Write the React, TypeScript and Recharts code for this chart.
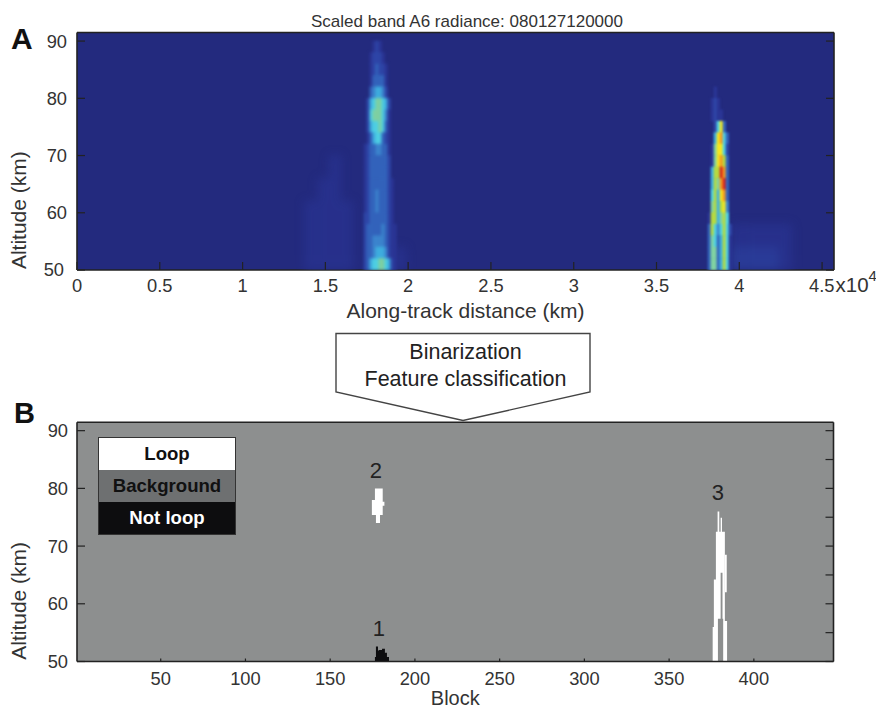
import React from 'react';
import {
  ScatterChart, ComposedChart, Scatter, Area, XAxis, YAxis, CartesianGrid,
  ReferenceDot, Legend,
} from 'recharts';

/* ---------- panel A values ---------- */
const kmTicks = [0, 5000, 10000, 15000, 20000, 25000, 30000, 35000, 40000, 45000];
const kmDomain = [0, 45720];
const altDomainA = [50, 91.5];
const altTicks = [50, 60, 70, 80, 90];

const rowAlts = [91, 89, 87, 85, 83, 81, 79, 77, 75, 73, 71, 69, 67, 65, 63, 61, 59, 57, 55, 53, 51];

const plumeOneKm = [17050, 17230, 17410, 17590, 17770, 17950, 18130, 18310, 18490, 18670, 18850, 19030, 19210];
const plumeOneLevels = [
  '0000000000000',
  '0000012100000',
  '0000122210000',
  '0000123221000',
  '0000133331000',
  '0000345542000',
  '0002567765200',
  '0002677764100',
  '0002566763100',
  '0001356632100',
  '0012334433100',
  '0012333333200',
  '0012333333200',
  '0012333333210',
  '0012334333210',
  '0012334333210',
  '0022333333210',
  '0023333343211',
  '0023344443211',
  '0023345554211',
  '0023566776521',
];

const plumeTwoKm = [38011, 38192, 38373, 38554, 38734, 38915, 39096, 39276, 39457, 39638];
const plumeTwoLevels = [
  '0000000000',
  '0000000000',
  '0000000000',
  '0000000000',
  '0000000000',
  '0001000000',
  '0012100000',
  '0012110000',
  '0002693000',
  '00059a6300',
  '0017996200',
  '00179a8300',
  '00588ba300',
  '00587ab300',
  '006859a300',
  '0078589400',
  '0188578600',
  '0386468620',
  '0376358610',
  '0377358610',
  '0377358610',
];

const hazeKm = [13400, 14100, 14900, 15600, 16300, 19500, 39900, 40700, 41400, 42100, 42800, 43600];
const hazeAlts = [72, 68, 64, 60, 56, 52];
const hazeLevels = [
  '000000000000',
  '000100000000',
  '001100000000',
  '011110000000',
  '011110111110',
  '011111222210',
];

const heatPalette = [
  '#232a7e', '#2a3595', '#2e46a8', '#3364bc', '#3c86ce', '#3fb0e0',
  '#4fd2e4', '#80d3a2', '#b6da40', '#f6e61e', '#f49a1f', '#d8261c',
];

/* ---------- panel B values ---------- */
const blockTicks = [50, 100, 150, 200, 250, 300, 350, 400];
const blockDomain = [0.6, 447];
const altDomainB = [50, 91.45];
const altTicksRight = [50, 55, 60, 65, 70, 75, 80, 85, 90];

const notLoopBlocks = [176.4, 177, 178.2, 178.8, 180.6, 182.3, 183.5, 184.7];
const notLoopTop = [50.8, 52.6, 51.9, 52, 52.2, 51.5, 50.8, 50.8];

const regionTwoBlocks = [174.6, 176.4, 177, 179.4, 181, 182];
const regionTwoLow = [75.4, 75.4, 74, 75.4, 77, 77];
const regionTwoHigh = [78, 80, 80, 80, 77.7, 77.7];

const regionThreeBlocks = [375.7, 376.4, 377.6, 378.6, 378.8, 379.6, 380.4, 381.2, 381.5, 381.9, 382.9, 384.2];
const regionThreeLow = [50, 50, 50, 50, 57.4, 57.4, 65.4, 65.4, 57.4, 50, 50, 50];
const regionThreeHigh = [56, 64.2, 72.5, 76, 76, 72.5, 74.9, 72.5, 72.5, 72.5, 57, 57];

const shoulderBlocks = [382.9, 384];
const shoulderLow = [62, 62];
const shoulderHigh = [68.5, 68.5];

const legendItems = [
  { label: 'Loop', fill: '#ffffff', color: '#111111' },
  { label: 'Background', fill: '#6e7071', color: '#111111' },
  { label: 'Not loop', fill: '#0d0d0f', color: '#ffffff' },
];

const regionNotes = [
  { label: '2', block: 177, alt: 83.1 },
  { label: '3', block: 378.7, alt: 79.4 },
  { label: '1', block: 178.8, alt: 55.8 },
];

/* ---------- tables ---------- */
const cellsFrom = (kms: number[], alts: number[], rows: string[]) =>
  rows.flatMap((row, r) =>
    kms.map((km, c) => ({ km, alt: alts[r], level: parseInt(row[c], 12) })).filter((d) => d.level > 0),
  );
const plumeOneCells = cellsFrom(plumeOneKm, rowAlts, plumeOneLevels);
const plumeTwoCells = cellsFrom(plumeTwoKm, rowAlts, plumeTwoLevels);
const hazeCells = cellsFrom(hazeKm, hazeAlts, hazeLevels);

const bandTable = (blocks: number[], low: number[], high: number[]) =>
  blocks.map((block, i) => ({ block, band: [low[i], high[i]] }));

const FONT = '"Liberation Sans", Arial, sans-serif';
const INK = '#333333';
const FRAME = '#222222';
const TICK_FS = 18.3;
const LABEL_FS = 21;

const cell = (w: number, h: number) => (p: any) => (
  <rect x={p.cx - w / 2} y={p.cy - h / 2} width={w} height={h} fill={heatPalette[p.payload.level]} />
);

const mark = (x1: number, y1: number, x2: number, y2: number) => (
  <line x1={x1} y1={y1} x2={x2} y2={y2} stroke={FRAME} strokeWidth={1.2} />
);

const LeftTick = (len: number, gap: (v: number) => number, lift: (v: number) => number) => (p: any) => (
  <g>
    {mark(p.x, p.y, p.x + len, p.y)}
    <text x={p.x - gap(p.payload.value)} y={p.y + 6.5 - lift(p.payload.value)} textAnchor="end" fontSize={TICK_FS} fontFamily={FONT} fill={INK}>
      {p.payload.value}
    </text>
  </g>
);
const RightTick = (len: number) => (p: any) => <g>{mark(p.x, p.y, p.x - len, p.y)}</g>;
const TopTick = (len: number) => (p: any) => <g>{mark(p.x, p.y, p.x, p.y + len)}</g>;

const BottomTickA = (p: any) => {
  const v = p.payload.value;
  const text = String(v / 10000);
  return (
    <g>
      {mark(p.x, p.y, p.x, p.y - 8)}
      {v === 45000 ? (
        <text x={p.x - 13} y={p.y + 22} fontSize={TICK_FS} fontFamily={FONT} fill={INK}>
          4.5<tspan dx={1} fontSize={20.5}>x10</tspan><tspan dy={-11} fontSize={15}>4</tspan>
        </text>
      ) : (
        <text x={p.x} y={p.y + 22} textAnchor="middle" fontSize={TICK_FS} fontFamily={FONT} fill={INK}>
          {text}
        </text>
      )}
    </g>
  );
};
const BottomTickB = (p: any) => (
  <g>
    {mark(p.x, p.y, p.x, p.y - 3)}
    <text x={p.x} y={p.y + 23} textAnchor="middle" fontSize={TICK_FS} fontFamily={FONT} fill={INK}>
      {p.payload.value}
    </text>
  </g>
);

const axisLine = { stroke: FRAME, strokeWidth: 1.6 };

const LegendBox = () => (
  <div style={{ width: 136, border: '1px solid #333', fontFamily: FONT, fontWeight: 700, fontSize: 18.6 }}>
    {legendItems.map((it) => (
      <div key={it.label} style={{ height: 32, lineHeight: '32px', textAlign: 'center', background: it.fill, color: it.color }}>
        {it.label}
      </div>
    ))}
  </div>
);

const PlotA = () => (
  <ScatterChart width={876} height={340} margin={{ top: 31.5, right: 41, bottom: 69, left: 76 }}>
    <CartesianGrid horizontal={false} vertical={false} fill={heatPalette[0]} />
    <XAxis dataKey="km" type="number" domain={kmDomain} ticks={kmTicks} height={1} tickSize={0} tickMargin={0}
      tickLine={false} axisLine={axisLine} interval={0} tick={BottomTickA} allowDataOverflow
      label={{ value: 'Along-track distance (km)', position: 'bottom', offset: 32, dx: 10, fontSize: LABEL_FS, fontFamily: FONT, fill: INK }} />
    <XAxis xAxisId="top" orientation="top" type="number" domain={kmDomain} ticks={kmTicks} height={1} tickSize={0}
      tickMargin={0} tickLine={false} axisLine={axisLine} interval={0} tick={TopTick(8)} allowDataOverflow />
    <YAxis dataKey="alt" type="number" domain={altDomainA} ticks={altTicks} width={1} tickSize={0} tickMargin={0}
      tickLine={false} axisLine={axisLine} interval={0} tick={LeftTick(8, (v) => (v === 50 ? 13 : 10), (v) => (v === 50 ? 1 : 0))} allowDataOverflow
      label={{ value: 'Altitude (km)', angle: -90, position: 'left', offset: 57, fontSize: LABEL_FS, fontFamily: FONT, fill: INK }} />
    <YAxis yAxisId="right" orientation="right" type="number" domain={altDomainA} ticks={altTicks} width={1} tickSize={0}
      tickMargin={0} tickLine={false} axisLine={axisLine} interval={0} tick={RightTick(8)} allowDataOverflow />
    <Scatter className="heat-haze" data={hazeCells} shape={cell(13, 24)} isAnimationActive={false} />
    <Scatter className="heat-soft" data={plumeOneCells} shape={cell(3.4, 12)} isAnimationActive={false} />
    <Scatter className="heat-fine" data={plumeTwoCells} shape={cell(3.4, 12)} isAnimationActive={false} />
  </ScatterChart>
);

const PlotB = () => (
  <ComposedChart width={876} height={300} margin={{ top: 11.3, right: 41.5, bottom: 47.5, left: 76 }}>
    <CartesianGrid horizontal={false} vertical={false} fill="#8d8f8f" />
    <XAxis dataKey="block" type="number" domain={blockDomain} ticks={blockTicks} height={1} tickSize={0} tickMargin={0}
      tickLine={false} axisLine={axisLine} interval={0} tick={BottomTickB} allowDataOverflow
      label={{ value: 'Block', position: 'bottom', offset: 28, fontSize: 20, fontFamily: FONT, fill: INK }} />
    <XAxis xAxisId="top" orientation="top" type="number" domain={blockDomain} ticks={blockTicks} height={1} tickSize={0}
      tickMargin={0} tickLine={false} axisLine={axisLine} interval={0} tick={TopTick(3)} allowDataOverflow />
    <YAxis type="number" domain={altDomainB} ticks={altTicks} width={1} tickSize={0} tickMargin={0} tickLine={false}
      axisLine={axisLine} interval={0} tick={LeftTick(8, () => 9, () => 0)} allowDataOverflow
      label={{ value: 'Altitude (km)', angle: -90, position: 'left', offset: 57, fontSize: LABEL_FS, fontFamily: FONT, fill: INK }} />
    <YAxis yAxisId="right" orientation="right" type="number" domain={altDomainB} ticks={altTicksRight} width={1} tickSize={0}
      tickMargin={0} tickLine={false} axisLine={axisLine} interval={0} tick={RightTick(8)} allowDataOverflow />
    <Area data={bandTable(notLoopBlocks, notLoopTop.map(() => 50), notLoopTop)} dataKey="band" type="stepAfter" stroke="none" fill="#0d0d0f" fillOpacity={1} dot={false} isAnimationActive={false} />
    <Area data={bandTable(regionTwoBlocks, regionTwoLow, regionTwoHigh)} dataKey="band" type="stepAfter" stroke="none" fill="#ffffff" fillOpacity={1} dot={false} isAnimationActive={false} />
    <Area data={bandTable(regionThreeBlocks, regionThreeLow, regionThreeHigh)} dataKey="band" type="stepAfter" stroke="none" fill="#ffffff" fillOpacity={1} dot={false} isAnimationActive={false} />
    <Area data={bandTable(shoulderBlocks, shoulderLow, shoulderHigh)} dataKey="band" type="stepAfter" stroke="none" fill="#ffffff" fillOpacity={1} dot={false} isAnimationActive={false} />
    {regionNotes.map((n) => (
      <ReferenceDot key={n.label} x={n.block} y={n.alt} r={0} fill="none" stroke="none"
        label={{ value: n.label, position: 'center', fontSize: 22, fontFamily: FONT, fill: '#222' }} />
    ))}
    <Legend content={<LegendBox />} layout="horizontal" align="center" verticalAlign="middle"
      wrapperStyle={{ left: 98, top: 27, width: 138, height: 98 }} />
  </ComposedChart>
);

export default function App() {
  const abs = (left: number, top: number): React.CSSProperties => ({ position: 'absolute', left, top });
  return (
    <div style={{ ...abs(0, 0), width: 876, height: 710, background: '#fff', overflow: 'hidden' }}>
      <style>{`
        .heat-fine { filter: blur(0.9px); clip-path: url(#plotClipA); }
        .heat-soft { filter: blur(1.8px); clip-path: url(#plotClipA); }
        .heat-haze { filter: blur(5px); clip-path: url(#plotClipA); opacity: 0.6; }
      `}</style>
      <svg width={0} height={0} style={abs(0, 0)}>
        <defs>
          <clipPath id="plotClipA" clipPathUnits="userSpaceOnUse">
            <rect x={77} y={32.5} width={757} height={237.5} />
          </clipPath>
        </defs>
      </svg>
      <div style={abs(0, 0)}><PlotA /></div>
      <div style={abs(0, 410)}><PlotB /></div>
      <svg width={876} height={710} style={{ ...abs(0, 0), pointerEvents: 'none' }} fontFamily={FONT}>
        <text x={467} y={27} textAnchor="middle" fontSize={17} fill={INK}>Scaled band A6 radiance: 080127120000</text>
        <text x={11} y={49} fontSize={30} fontWeight={700} fill="#111">A</text>
        <text x={14} y={423} fontSize={29} fontWeight={700} fill="#111">B</text>
        <polygon points="336,333.5 590,333.5 590,392 463,420.5 336,392" fill="#fff" stroke="#444" strokeWidth={1.4} />
        <text x={465.5} y={359} textAnchor="middle" fontSize={21.5} fill="#222">Binarization</text>
        <text x={465.5} y={386} textAnchor="middle" fontSize={21.5} fill="#222">Feature classification</text>
      </svg>
    </div>
  );
}
